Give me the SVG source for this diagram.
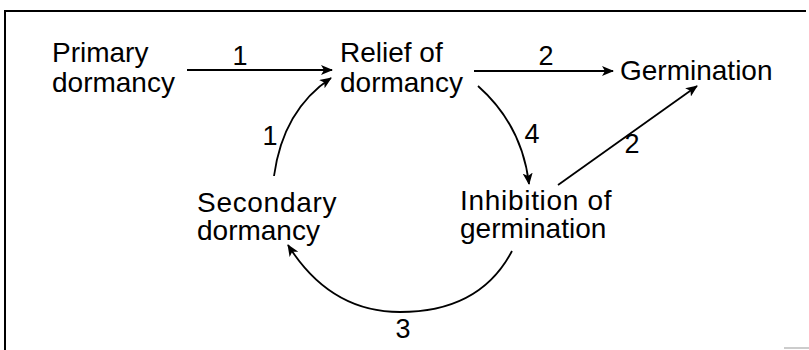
<svg xmlns="http://www.w3.org/2000/svg" width="809" height="350" viewBox="0 0 809 350">
<defs>
<marker id="ah" markerWidth="12" markerHeight="10" refX="11" refY="5" orient="auto" markerUnits="userSpaceOnUse">
<path d="M0,0 L12,5 L0,10 L3,5 Z" fill="#000"/>
</marker>
<style>
text{font-family:"Liberation Sans",Arial,Helvetica,sans-serif;fill:#000}
.n{font-size:28px}
.w{letter-spacing:0.7px}
.l{font-size:27px}
.c{fill:none;stroke:#000;stroke-width:1.8}
</style>
</defs>
<rect width="809" height="350" fill="#fff"/>
<g id="frame" fill="none" stroke="#000" stroke-width="2">
<path d="M5,350 V11 H806"/>
<path d="M784,348 H809" stroke="#bbb" stroke-width="1.5"/>
</g>
<g id="connectors">
<line class="c" x1="187" y1="70" x2="332" y2="70" marker-end="url(#ah)"/>
<line class="c" x1="474" y1="71" x2="613" y2="71" marker-end="url(#ah)"/>
<path class="c" d="M478,86 Q522,125 529,184" marker-end="url(#ah)"/>
<line class="c" x1="558" y1="185" x2="697" y2="86" marker-end="url(#ah)"/>
<path class="c" d="M512,251 Q480,312 400,312 Q330,312 288,245" marker-end="url(#ah)"/>
<path class="c" d="M274,176 Q283,110 331,78" marker-end="url(#ah)"/>
<text class="l" x="240" y="65" text-anchor="middle">1</text>
<text class="l" x="546" y="65" text-anchor="middle">2</text>
<text class="l" x="532" y="143" text-anchor="middle">4</text>
<text class="l" x="632" y="153" text-anchor="middle">2</text>
<text class="l" x="403" y="338" text-anchor="middle">3</text>
<text class="l" x="270" y="145" text-anchor="middle">1</text>
</g>
<g id="primary"><text class="n" x="52" y="62">Primary</text><text class="n" x="52" y="92">dormancy</text></g>
<g id="relief"><text class="n" x="340" y="62">Relief of</text><text class="n" x="340" y="92">dormancy</text></g>
<g id="germination"><text class="n" x="620" y="80">Germination</text></g>
<g id="inhibition"><text class="n w" x="460" y="210">Inhibition of</text><text class="n" x="460" y="238">germination</text></g>
<g id="secondary"><text class="n w" x="197" y="212">Secondary</text><text class="n" x="197" y="240">dormancy</text></g>
</svg>
